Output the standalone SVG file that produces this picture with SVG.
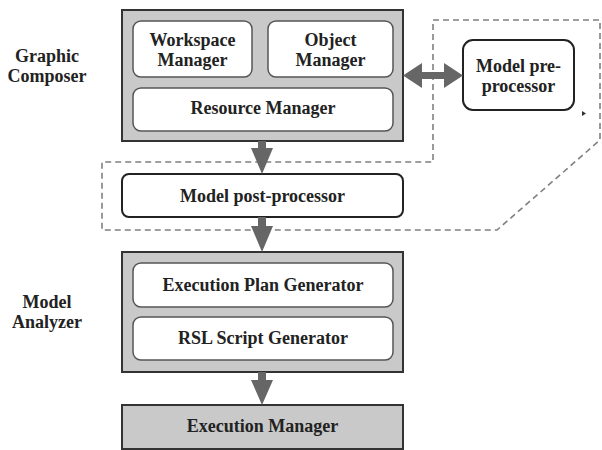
<svg xmlns="http://www.w3.org/2000/svg" width="602" height="450" viewBox="0 0 602 450">
  <style>
    .lbl { font-family: "Liberation Serif", "Times New Roman", serif; font-weight: bold; font-size: 18px; fill: #222; text-anchor: middle; }
    .outer { fill: #c9c9c9; stroke: #333; stroke-width: 2; }
    .inner { fill: #fff; stroke: #555; stroke-width: 1.5; }
    .plain { fill: #fff; stroke: #222; stroke-width: 2; }
    .dash { fill: none; stroke: #808080; stroke-width: 1.6; stroke-dasharray: 6 4; }
    .flow { fill: #666; stroke: none; }
  </style>

  <!-- dashed region around the pre/post-processing stage -->
  <g id="processing-region">
    <path class="dash" d="M433,160 L433,20 L600,20 L600,140 L497,230 L102,230 L102,162 L433,162"/>
  </g>

  <!-- side labels -->
  <g id="label-graphic-composer">
    <text class="lbl" x="47" y="62">Graphic</text>
    <text class="lbl" x="47" y="82">Composer</text>
  </g>
  <g id="label-model-analyzer">
    <text class="lbl" x="47" y="308">Model</text>
    <text class="lbl" x="47" y="328">Analyzer</text>
  </g>

  <!-- Graphic Composer -->
  <g id="graphic-composer">
    <rect class="outer" x="122" y="10" width="281" height="131"/>
    <g id="workspace-manager">
      <rect class="inner" x="133" y="21" width="119" height="56" rx="8"/>
      <text class="lbl" x="192.5" y="46">Workspace</text>
      <text class="lbl" x="192.5" y="66">Manager</text>
    </g>
    <g id="object-manager">
      <rect class="inner" x="268" y="21" width="125" height="56" rx="8"/>
      <text class="lbl" x="330.5" y="46">Object</text>
      <text class="lbl" x="330.5" y="66">Manager</text>
    </g>
    <g id="resource-manager">
      <rect class="inner" x="133" y="88" width="260" height="43" rx="8"/>
      <text class="lbl" x="263" y="114">Resource Manager</text>
    </g>
  </g>

  <!-- Model pre-processor -->
  <g id="model-pre-processor">
    <rect class="plain" x="463" y="40" width="111" height="70" rx="10"/>
    <text class="lbl" x="518.5" y="72">Model pre-</text>
    <text class="lbl" x="518.5" y="92">processor</text>
  </g>

  <!-- Model post-processor -->
  <g id="model-post-processor">
    <rect class="plain" x="122" y="174" width="281" height="43" rx="7"/>
    <text class="lbl" x="262.5" y="202">Model post-processor</text>
  </g>

  <!-- Model Analyzer -->
  <g id="model-analyzer">
    <rect class="outer" x="122" y="252" width="281" height="120"/>
    <g id="execution-plan-generator">
      <rect class="inner" x="133" y="263" width="260" height="44" rx="8"/>
      <text class="lbl" x="263" y="291">Execution Plan Generator</text>
    </g>
    <g id="rsl-script-generator">
      <rect class="inner" x="133" y="317" width="260" height="43" rx="8"/>
      <text class="lbl" x="263" y="344">RSL Script Generator</text>
    </g>
  </g>

  <!-- Execution Manager -->
  <g id="execution-manager">
    <rect class="outer" x="122" y="405" width="281" height="44"/>
    <text class="lbl" x="262.5" y="432">Execution Manager</text>
  </g>

  <!-- connectors -->
  <g id="connectors">
    <path class="flow" d="M258,141 L266,141 L266,148 L273,148 L262,174 L251,148 L258,148 Z"/>
    <path class="flow" d="M258,217 L266,217 L266,226 L273,226 L262,252 L251,226 L258,226 Z"/>
    <path class="flow" d="M258,372 L266,372 L266,380 L273,380 L262,405 L251,380 L258,380 Z"/>
    <path class="flow" d="M403,75.5 L422,63 L422,72 L444,72 L444,63 L463,75.5 L444,88 L444,79 L422,79 L422,88 Z"/>
    <path fill="#333" d="M582,111 L586,113.5 L582,116 Z"/>
  </g>
</svg>
